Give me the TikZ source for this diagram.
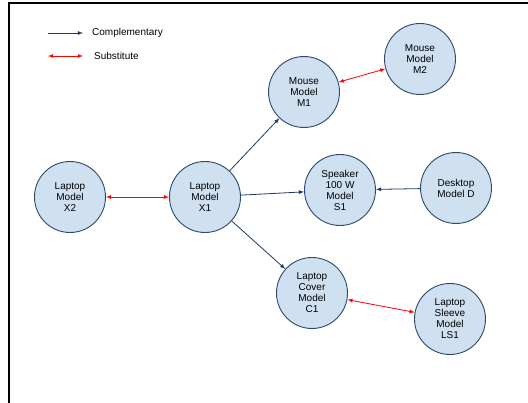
\documentclass[tikz,border=0pt]{standalone}
\usepackage{fontspec}
\setmainfont{Liberation Sans}
\usetikzlibrary{positioning}

\definecolor{nodefill}{RGB}{207,224,241}
\definecolor{nodeline}{RGB}{44,74,110}
\definecolor{complcol}{RGB}{30,58,95}

\tikzset{
	product/.style={circle, draw=nodeline, fill=nodefill, line width=0.9pt,
		minimum size=71pt, inner sep=0pt, align=center,
		font=\fontsize{10}{11}\selectfont},
	compl/.style={-latex, color=complcol, line width=0.8pt},
	subst/.style={latex-latex, color=red, line width=0.8pt},
	legendtext/.style={anchor=west, inner sep=0pt, font=\fontsize{10}{11}\selectfont}
}

\begin{document}
\begin{tikzpicture}[x=1pt,y=-1pt]
	\useasboundingbox (0,0) rectangle (528,403);
	
	% frame
	\draw[line width=1.5pt] (9,403) -- (9,3) -- (528,3);
	
	% legend
	\coordinate (lc1) at (48,33);  \coordinate (lc2) at (83,33);
	\coordinate (ls1) at (48,56);  \coordinate (ls2) at (83,56);
	\draw[compl] (lc1) -- (lc2);
	\draw[subst] (ls1) -- (ls2);
	\node[legendtext] (lcompl) at (92,33) {Complementary};
	\node[legendtext] (lsubst) at (94,56) {Substitute};
	
	% products
	\node[product] (x2) at (70,197) {Laptop\\Model\\X2};
	\node[product] (x1) at (205,197) {Laptop\\Model\\X1};
	\node[product] (m1) at (304,92) {Mouse\\Model\\M1};
	\node[product] (m2) at (420,59) {Mouse\\Model\\M2};
	\node[product] (s1) at (340,190) {Speaker\\100 W\\Model\\S1};
	\node[product] (d) at (456,188) {Desktop\\Model D};
	\node[product] (c1) at (312,293) {Laptop\\Cover\\Model\\C1};
	\node[product] (ls1) at (450,319) {Laptop\\Sleeve\\Model\\LS1};
	
	% complementary
	\draw[compl] (x1) -- (m1);
	\draw[compl] (x1) -- (s1);
	\draw[compl] (x1) -- (c1);
	\draw[compl] (d) -- (s1);
	
	% substitute
	\draw[subst] (x2) -- (x1);
	\draw[subst] (m1) -- (m2);
	\draw[subst] (c1) -- (ls1);
	
\end{tikzpicture}
\end{document}
